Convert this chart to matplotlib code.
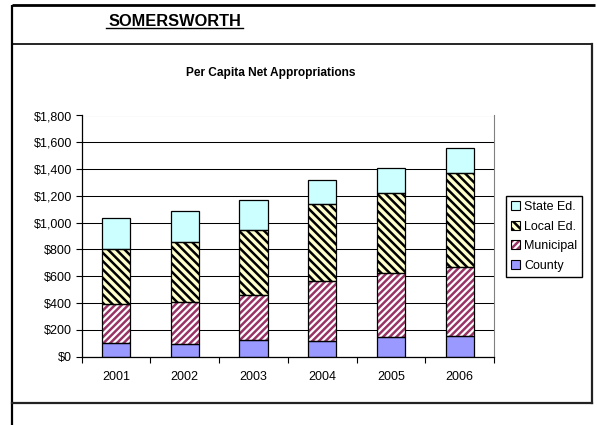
import matplotlib
matplotlib.use("Agg")
import matplotlib.pyplot as plt
from matplotlib.patches import Patch
from matplotlib.legend_handler import HandlerTuple
from matplotlib.ticker import FixedLocator, FuncFormatter

plt.rcParams['font.family'] = ['Liberation Sans', 'DejaVu Sans']
plt.rcParams['hatch.linewidth'] = 1.8

# data (per capita dollars)
years = ['2001', '2002', '2003', '2004', '2005', '2006']
county = [100, 92, 127, 119, 149, 157]
municipal = [293, 318, 333, 445, 477, 510]
local_ed = [410, 443, 487, 572, 597, 705]
state_ed = [229, 231, 224, 182, 182, 182]

series_names = ['County', 'Municipal', 'Local Ed.', 'State Ed.']
series_values = [county, municipal, local_ed, state_ed]
face_colors = ['#9999FF', '#FFFFFF', '#FFFFCC', '#CCFFFF']
hatch_colors = ['#9999FF', '#993366', '#000000', '#CCFFFF']
hatches = [None, '/////', '\\\\\\\\', None]

W, H = 597, 425
fig = plt.figure(figsize=(W / 100, H / 100), dpi=100)

# page frame drawn in pixel coords
frame = fig.add_axes([0, 0, 1, 1], zorder=-1)
frame.set_xlim(0, W)
frame.set_ylim(H, 0)
frame.axis('off')
frame.plot([12, 595], [5, 5], color='black', lw=2.0, solid_capstyle='butt')
frame.plot([12, 12], [5, H], color='black', lw=1.6, solid_capstyle='butt')
frame.plot([12, 592], [43.5, 43.5], color='black', lw=1.2)
frame.plot([592, 592], [43.5, 403], color='#222222', lw=1.6)
frame.plot([12, 592], [403, 403], color='#222222', lw=1.6)

frame.text(175, 21.5, 'SOMERSWORTH', ha='center', va='center',
           fontsize=11.8, fontweight='bold')
frame.plot([106, 243], [27.5, 27.5], color='black', lw=1.0)
frame.text(271, 73, 'Per Capita Net Appropriations', ha='center', va='center',
           fontsize=8.6, fontweight='bold')

ax = fig.add_axes([81.7 / W, 1 - 356.7 / H, (494 - 81.7) / W, (356.7 - 115.5) / H])
x = list(range(len(years)))
bottom = [0] * len(years)
handles = []
for name, vals, fc, hc, ht in zip(series_names, series_values, face_colors, hatch_colors, hatches):
    ax.bar(x, vals, width=0.41, bottom=bottom, color=fc, edgecolor=hc,
           hatch=ht, linewidth=0, zorder=2)
    ax.bar(x, vals, width=0.41, bottom=bottom, facecolor='none',
           edgecolor='black', linewidth=0.9, zorder=3)
    bottom = [b + v for b, v in zip(bottom, vals)]
    handles.append((Patch(facecolor=fc, edgecolor=hc, hatch=ht, linewidth=0),
                    Patch(facecolor='none', edgecolor='black', linewidth=0.8)))

ax.set_xlim(-0.5, len(years) - 0.5)
ax.set_ylim(0, 1800)
ax.set_yticks(range(0, 1801, 200))
ax.yaxis.set_major_formatter(FuncFormatter(lambda v, p: f'${int(v):,}'))
ax.set_xticks(x)
ax.set_xticklabels(years)
ax.xaxis.set_minor_locator(FixedLocator([i - 0.5 for i in range(len(years) + 1)]))
ax.tick_params(axis='x', which='major', length=0, pad=10, labelsize=9)
ax.tick_params(axis='x', which='minor', length=4, width=0.8, direction='out')
ax.tick_params(axis='y', length=4, width=0.8, direction='out', pad=3, labelsize=9)
ax.yaxis.grid(True, color='black', linewidth=0.75, zorder=0)
ax.set_axisbelow(True)
ax.spines['top'].set_visible(False)
ax.spines['right'].set_color('#808080')
ax.spines['left'].set_linewidth(0.9)
ax.spines['bottom'].set_linewidth(0.9)

fig.legend(handles[::-1], series_names[::-1],
           handler_map={tuple: HandlerTuple(ndivide=1)},
           loc='upper left', bbox_to_anchor=(506 / W, 1 - 196 / H),
           bbox_transform=fig.transFigure, borderaxespad=0,
           fontsize=9, fancybox=False, framealpha=1, edgecolor='black',
           handlelength=0.75, handleheight=0.75, handletextpad=0.3,
           labelspacing=0.6, borderpad=0.4)

fig.savefig('out.png', dpi=100)
